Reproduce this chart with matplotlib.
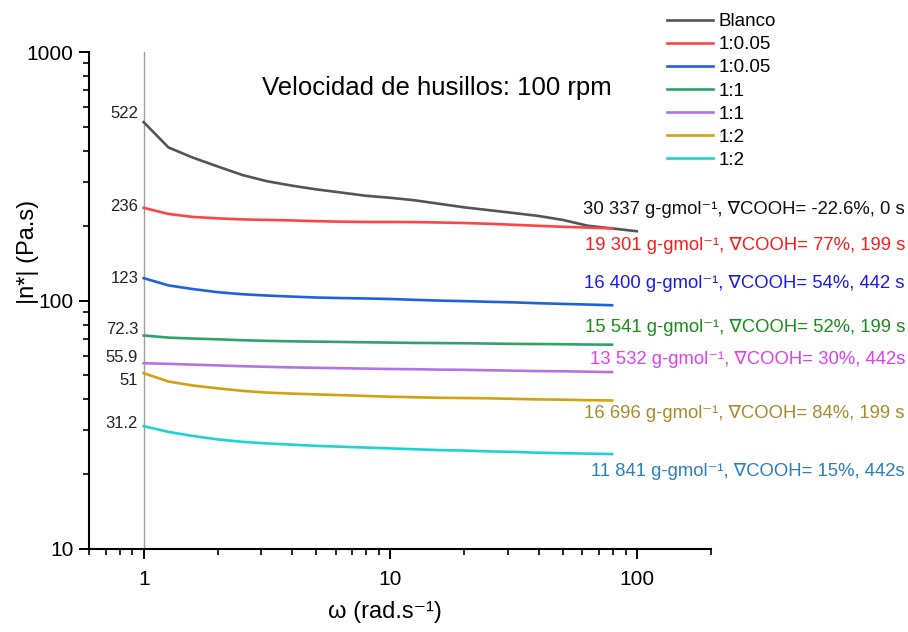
import matplotlib
matplotlib.use("Agg")
import matplotlib.pyplot as plt
from matplotlib.ticker import LogLocator, NullFormatter

plt.rcParams["font.family"] = ["Liberation Sans", "DejaVu Sans"]

# angular frequency (rad/s)
omega = [1, 1.26, 1.58, 2.0, 2.51, 3.16, 3.98, 5.01, 6.31, 7.94,
         10, 12.6, 15.8, 20, 25.1, 31.6, 39.8, 50.1, 63.1, 79.4]
omega_blanco = omega + [100]

# complex viscosity |n*| (Pa.s)
blanco = [522, 413, 376, 346, 320, 302, 290, 280, 272, 264,
          259, 253, 245, 237, 231, 225, 219, 211, 200, 195, 190]
r1_005_a = [236, 223, 217, 214, 212, 211, 210, 208.5, 207.6, 207,
            207, 206.7, 206, 205, 203.6, 201.7, 199.8, 198, 196.5, 195]
r1_005_b = [123, 115, 111.2, 108, 106, 104.7, 103.7, 102.8, 102.3, 101.9,
            101.4, 100.6, 99.9, 99.4, 98.8, 98.3, 97.5, 96.9, 96.3, 95.7]
r1_1_a = [72.3, 70.9, 70.3, 69.8, 69.2, 68.8, 68.5, 68.3, 68.1, 67.9,
          67.7, 67.5, 67.4, 67.3, 67.1, 66.9, 66.8, 66.7, 66.5, 66.4]
r1_1_b = [55.9, 55.6, 55.2, 54.8, 54.4, 54.1, 53.8, 53.6, 53.4, 53.2,
          53.0, 52.9, 52.7, 52.6, 52.4, 52.2, 52.0, 51.9, 51.7, 51.5]
r1_2_a = [51, 47.2, 45.5, 44.3, 43.3, 42.6, 42.2, 41.9, 41.6, 41.3,
          41.0, 40.8, 40.6, 40.5, 40.4, 40.2, 40.0, 39.9, 39.7, 39.6]
r1_2_b = [31.2, 29.6, 28.5, 27.6, 27.0, 26.6, 26.3, 26.0, 25.8, 25.6,
          25.4, 25.2, 25.0, 24.9, 24.7, 24.6, 24.4, 24.3, 24.2, 24.1]

legend_labels = ["Blanco", "1:0.05", "1:0.05", "1:1", "1:1", "1:2", "1:2"]
start_labels = ["522", "236", "123", "72.3", "55.9", "51", "31.2"]
notes = [
    "30 337 g-gmol\u207b\u00b9, \u2207COOH= -22.6%, 0 s",
    "19 301 g-gmol\u207b\u00b9, \u2207COOH= 77%, 199 s",
    "16 400 g-gmol\u207b\u00b9, \u2207COOH= 54%, 442 s",
    "15 541 g-gmol\u207b\u00b9, \u2207COOH= 52%, 199 s",
    "13 532 g-gmol\u207b\u00b9, \u2207COOH= 30%, 442s",
    "16 696 g-gmol\u207b\u00b9, \u2207COOH= 84%, 199 s",
    "11 841 g-gmol\u207b\u00b9, \u2207COOH= 15%, 442s",
]

line_colors = ["#555555", "#ff4444", "#1f62e0", "#2fa36b", "#b275e3", "#d4a20f", "#1fd3d3"]
note_colors = ["#111111", "#ff1a1a", "#1a1aee", "#1a8c1a", "#e040f0", "#a88a2c", "#2a7fc0"]
# vertical offsets (pt) of the start-value labels and figure y (px) of the notes
label_dy = [6, 1, 0, 4, 4, -5, 2]
note_y = [210, 245, 284, 328, 359, 414, 471]

series_x = [omega_blanco] + [omega] * 6
series_y = [blanco, r1_005_a, r1_005_b, r1_1_a, r1_1_b, r1_2_a, r1_2_b]

W, H = 908, 632
fig = plt.figure(figsize=(W / 100, H / 100), dpi=100)
ax = fig.add_axes([89 / W, 1 - 549 / H, 622 / W, 497 / H])

ax.axvline(1, color="#a0a0a0", lw=1.0, zorder=1)

handles = []
for xs, ys, col, lab in zip(series_x, series_y, line_colors, legend_labels):
    (h,) = ax.plot(xs, ys, color=col, lw=1.9, label=lab, zorder=3)
    handles.append(h)

for ys, txt, dy in zip(series_y, start_labels, label_dy):
    ax.annotate(txt, xy=(1, ys[0]), xytext=(-4, dy), textcoords="offset points",
                ha="right", va="center", fontsize=12, color="#222222")

ax.set_xscale("log")
ax.set_yscale("log")
ax.set_xlim(0.6, 200)
ax.set_ylim(10, 1000)
ax.set_xticks([1, 10, 100])
ax.set_xticklabels(["1", "10", "100"])
ax.set_yticks([10, 100, 1000])
ax.set_yticklabels(["10", "100", "1000"])
for axis in (ax.xaxis, ax.yaxis):
    axis.set_minor_locator(LogLocator(base=10, subs=range(2, 10), numticks=20))
    axis.set_minor_formatter(NullFormatter())
ax.tick_params(which="major", direction="out", length=7, width=1.4, labelsize=15)
ax.tick_params(axis="x", which="major", pad=8)
ax.tick_params(axis="y", which="major", pad=4)
ax.tick_params(which="minor", direction="out", length=4, width=1.2)
for side in ("top", "right"):
    ax.spines[side].set_visible(False)
for side in ("left", "bottom"):
    ax.spines[side].set_linewidth(1.5)

ax.set_xlabel("\u03c9 (rad.s\u207b\u00b9)", fontsize=17)
ax.xaxis.set_label_coords((385 - 89) / 622, -(612 - 549) / 497)
ax.set_ylabel("|n*| (Pa.s)", fontsize=17)
ax.yaxis.set_label_coords((28 - 89) / 622, (549 - 252) / 497)
ax.xaxis.label.set_va("center")
ax.yaxis.label.set_va("center")

fig.text(437 / W, 1 - 88 / H, "Velocidad de husillos: 100 rpm",
         ha="center", va="center", fontsize=18.5)

for txt, col, y in zip(notes, note_colors, note_y):
    fig.text(905 / W, 1 - y / H, txt, ha="right", va="center", fontsize=13.3, color=col)

fig.legend(handles=handles, loc="upper left", bbox_to_anchor=(667 / W, 1 - 13 / H),
           frameon=False, fontsize=13.5, handlelength=2.45, handletextpad=0.3,
           labelspacing=0.32, borderpad=0, borderaxespad=0)

fig.savefig("out.png", dpi=100)
